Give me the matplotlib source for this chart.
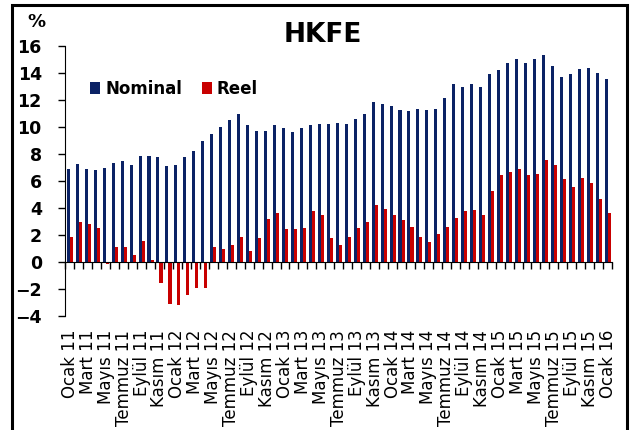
"""HKFE nominal vs. real rate, monthly bars Ocak 11 - Ocak 16."""

import matplotlib

matplotlib.use("Agg")
import matplotlib.pyplot as plt
import numpy as np
from matplotlib.patches import Rectangle

MONTHS = ["Ocak", "Şubat", "Mart", "Nisan", "Mayıs", "Haziran",
          "Temmuz", "Ağustos", "Eylül", "Ekim", "Kasım", "Aralık"]
YEARS = ["11", "12", "13", "14", "15", "16"]

categories = [f"{m} {y}" for y in YEARS for m in MONTHS][:61]

nominal = [
    6.89, 7.26, 6.89, 6.79, 6.99, 7.36, 7.46, 7.19, 7.83, 7.83, 7.75, 7.09,
    7.19, 7.75, 8.22, 8.96, 9.46, 10.00, 10.52, 10.96, 10.12, 9.73,
    9.73, 10.12, 9.93, 9.63, 9.93, 10.12, 10.22, 10.22, 10.30, 10.22,
    10.59, 10.96, 11.83, 11.73, 11.53, 11.26, 11.16, 11.33, 11.26, 11.35,
    12.12, 13.16, 12.96, 13.16, 12.96, 13.93, 14.20, 14.77, 15.04, 14.77,
    15.04, 15.33, 14.49, 13.73, 13.93, 14.30, 14.37, 14.00, 13.53,
]

reel = [
    1.85, 2.99, 2.79, 2.52, -0.12, 1.09, 1.09, 0.52, 1.58, 0.15, -1.56, -3.09,
    -3.19, -2.42, -1.93, -1.93, 1.09, 0.99, 1.28, 1.85, 0.81, 1.75,
    3.19, 3.65, 2.42, 2.42, 2.52, 3.75, 3.46, 1.75, 1.28, 1.85,
    2.52, 2.99, 4.22, 3.93, 3.46, 3.09, 2.62, 1.85, 1.48, 2.05,
    2.62, 3.28, 3.75, 3.85, 3.46, 5.26, 6.42, 6.69, 6.89, 6.42,
    6.52, 7.56, 7.19, 6.12, 5.56, 6.22, 5.85, 4.69, 3.65,
]

NAVY = "#0B2265"
RED = "#C80000"

fig = plt.figure(figsize=(6.41, 4.30), dpi=100)
ax = fig.add_axes([0.102, 0.265, 0.853, 0.628])

x = np.arange(len(categories))
w = 0.34
ax.bar(x - w / 2, nominal, width=w, color=NAVY, label="Nominal", zorder=2)
ax.bar(x + w / 2, reel, width=w, color=RED, label="Reel", zorder=2)

ax.set_xlim(-0.5, len(categories) - 0.5)
ax.set_ylim(-4, 16)
ax.set_yticks(range(-4, 17, 2))
ax.tick_params(axis="y", direction="out", length=5, width=1, pad=12)
for lab in ax.get_yticklabels():
    lab.set_fontweight("bold")
    lab.set_fontsize(12.5)

# x axis line sits at zero, with tick marks between categories
ax.spines["bottom"].set_position(("data", 0))
ax.spines["top"].set_visible(False)
ax.spines["right"].set_visible(False)
ax.set_xticks(np.arange(-0.5, len(categories), 1.0))
ax.tick_params(axis="x", direction="out", length=5, width=1, labelbottom=False)

# category labels at the bottom of the plot area
sec = ax.secondary_xaxis(0.0)
sec.spines["bottom"].set_visible(False)
sec.set_xticks(x[::2])
sec.set_xticklabels(categories[::2], rotation=90, fontsize=12)
sec.tick_params(axis="x", length=0, pad=10)

ax.set_title("HKFE", fontsize=19, fontweight="bold", x=0.47, y=1.0, pad=3)
fig.text(0.043, 0.948, "%", fontsize=13, fontweight="bold", ha="left", va="center")

ax.legend(loc="upper left", bbox_to_anchor=(0.03, 0.905), ncol=2, frameon=False,
          prop={"weight": "bold", "size": 12}, handlelength=0.6, handleheight=0.7,
          handletextpad=0.3, columnspacing=1.2, borderpad=0)

fig.patches.append(Rectangle((12 / 641, -0.05), 615 / 641, 1.05 - 5 / 430,
                             transform=fig.transFigure, fill=False,
                             edgecolor="black", linewidth=2.2))

fig.savefig("out.png", dpi=100)
